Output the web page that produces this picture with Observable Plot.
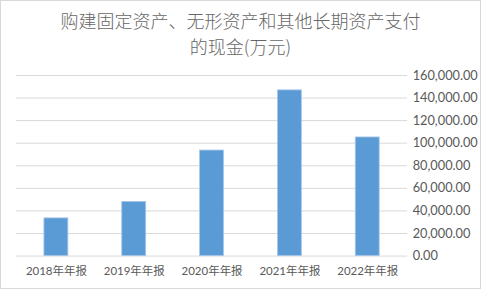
<!DOCTYPE html>
<html><head><meta charset="utf-8">
<script src="https://cdn.jsdelivr.net/npm/d3@7"></script>
<script src="https://cdn.jsdelivr.net/npm/@observablehq/plot@0.6"></script>
<style>
body{margin:0;background:#fff;}
#wrap{position:relative;width:479px;height:287px;border:1px solid #d9d9d9;background:#fff;overflow:hidden;}
#title{position:absolute;left:0;top:6px;width:479px;text-align:center;font-family:"Noto Sans CJK SC",sans-serif;font-weight:300;font-size:18px;line-height:26px;color:#666666;}
#chart{position:absolute;left:-1px;top:59px;}
</style></head>
<body><div id="wrap"><div id="title">购建固定资产、无形资产和其他长期资产支付<br>的现金(万元)</div><div id="chart"></div></div>
<script>
const categories = ["2018年年报","2019年年报","2020年年报","2021年年报","2022年年报"];
const values = [33400, 48000, 93500, 146800, 105100];
const yTicks = [0,20000,40000,60000,80000,100000,120000,140000,160000];
const data = categories.map((c,i)=>({c, v: values[i]}));
const fmt = d3.format(",.2f");
const plot = Plot.plot({
  width: 481, height: 229,
  marginTop: 15, marginBottom: 33, marginLeft: 16, marginRight: 73,
  style: {fontFamily: "Lato, 'Noto Sans CJK SC', sans-serif", fontSize: "11px", color: "#595959", background: "transparent"},
  x: {domain: categories, paddingInner: 0.69, paddingOuter: 0.345, label: null},
  y: {domain: [0,160000], label: null},
  marks: [
    Plot.gridY(yTicks, {stroke: "#d9d9d9", strokeOpacity: 1, strokeWidth: 1}),
    Plot.barY(data, {x: "c", y: "v", fill: "#5b9bd5", stroke: "#a9c8ea", strokeWidth: 0.8}),
    Plot.axisY(yTicks, {anchor: "right", tickSize: 0, tickPadding: 5, textAnchor: "start", tickFormat: fmt, fill: "#595959", fontSize: 12.8, label: null}),
    Plot.axisX({tickSize: 0, tickPadding: 11, fill: "#595959", fontSize: 11.5, label: null})
  ]
});
document.getElementById("chart").appendChild(plot);
</script></body></html>
